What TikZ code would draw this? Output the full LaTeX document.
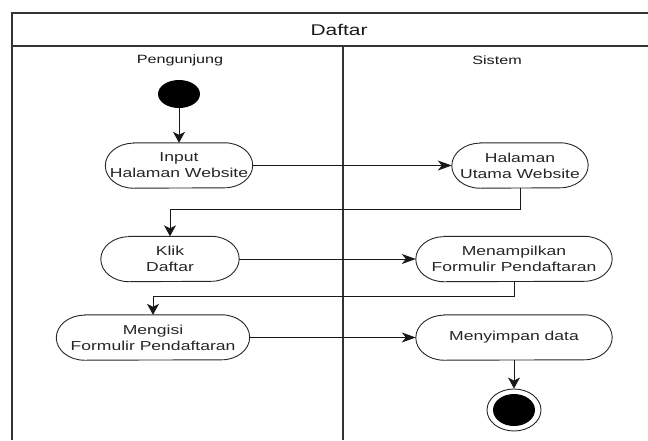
\documentclass[tikz,border=0pt]{standalone}
\usepackage{fontspec}
\setmainfont{Liberation Sans}[FakeStretch=1.35]
\usetikzlibrary{arrows.meta,calc,shapes.geometric}
\tikzset{
  act/.style={draw=none, inner sep=0pt, align=center, font=\fontsize{13}{16}\selectfont, text=black!85, minimum height=45pt},
  lane/.style={inner sep=0pt, font=\fontsize{12}{14}\selectfont, text=black!90},
  titlelbl/.style={inner sep=0pt, font=\fontsize{15.5}{17}\selectfont, text=black!90},
  hconn/.style={draw=black!90, line width=1pt, -{Stealth[length=14pt,width=10pt,inset=4pt]}},
  vconn/.style={draw=black!90, line width=1pt, -{Stealth[length=11pt,width=12pt,inset=3pt]}},
  frameline/.style={draw=black!80, line width=1.5pt},
  pill/.style={draw=black!85, line width=0.9pt},
}
\newcommand\drawpill[2]{%
  \draw[pill] ($(#1.north west)+(#2,0)$) -- ($(#1.north east)+(-#2,0)$)
    arc[start angle=90,end angle=-90,x radius=#2pt,y radius=22.5pt]
    -- ($(#1.south west)+(#2,0)$)
    arc[start angle=270,end angle=90,x radius=#2pt,y radius=22.5pt] -- cycle;}
\begin{document}
\begin{tikzpicture}[x=1pt,y=1pt]
\useasboundingbox (0,0) rectangle (648,-440);
% frame
\draw[frameline] (648,-13) -- (12,-13) -- (12,-440);
\draw[frameline] (12,-46) -- (648,-46);
\draw[frameline] (343,-46) -- (343,-440);
\node[titlelbl] (title) at (339,-30) {Daftar};
\node[lane] (lane1) at (180,-60) {Pengunjung};
\node[lane] (lane2) at (497,-60) {Sistem};
% nodes
\node[ellipse, fill=black, draw=none, inner sep=0pt, minimum width=42pt, minimum height=28pt] (start) at (179,-94) {};
\node[act, minimum width=147pt] (input) at (179,-165.5) {Input\\Halaman Website};
\node[act, minimum width=136pt] (utama) at (520,-165.5) {Halaman\\Utama Website};
\node[act, minimum width=138pt] (klik) at (170,-259) {Klik\\Daftar};
\node[act, minimum width=196pt] (tampil) at (514,-259) {Menampilkan\\Formulir Pendaftaran};
\node[act, minimum width=193pt] (isi) at (153,-337.5) {Mengisi\\Formulir Pendaftaran};
\node[act, minimum width=196pt] (simpan) at (514,-337.5) {Menyimpan data};
\node[ellipse, draw=black!85, line width=0.9pt, inner sep=0pt, minimum width=54pt, minimum height=42pt] (final) at (514,-410) {};
\fill[black] (final.center) ellipse[x radius=21pt, y radius=16pt];
\drawpill{input}{28}
\drawpill{utama}{28}
\drawpill{klik}{28}
\drawpill{tampil}{28}
\drawpill{isi}{28}
\drawpill{simpan}{28}
% connectors
\coordinate (c1) at (170,-209);
\coordinate (c2) at (153,-296);
\draw[vconn] (start) -- (input);
\draw[hconn] (input) -- (utama);
\draw[vconn] (utama.south) |- (c1) -- (klik.north);
\draw[hconn] (klik) -- (tampil);
\draw[vconn] (tampil.south) |- (c2) -- (isi.north);
\draw[hconn] (isi) -- (simpan);
\draw[vconn] (simpan) -- (final);
\end{tikzpicture}
\end{document}
